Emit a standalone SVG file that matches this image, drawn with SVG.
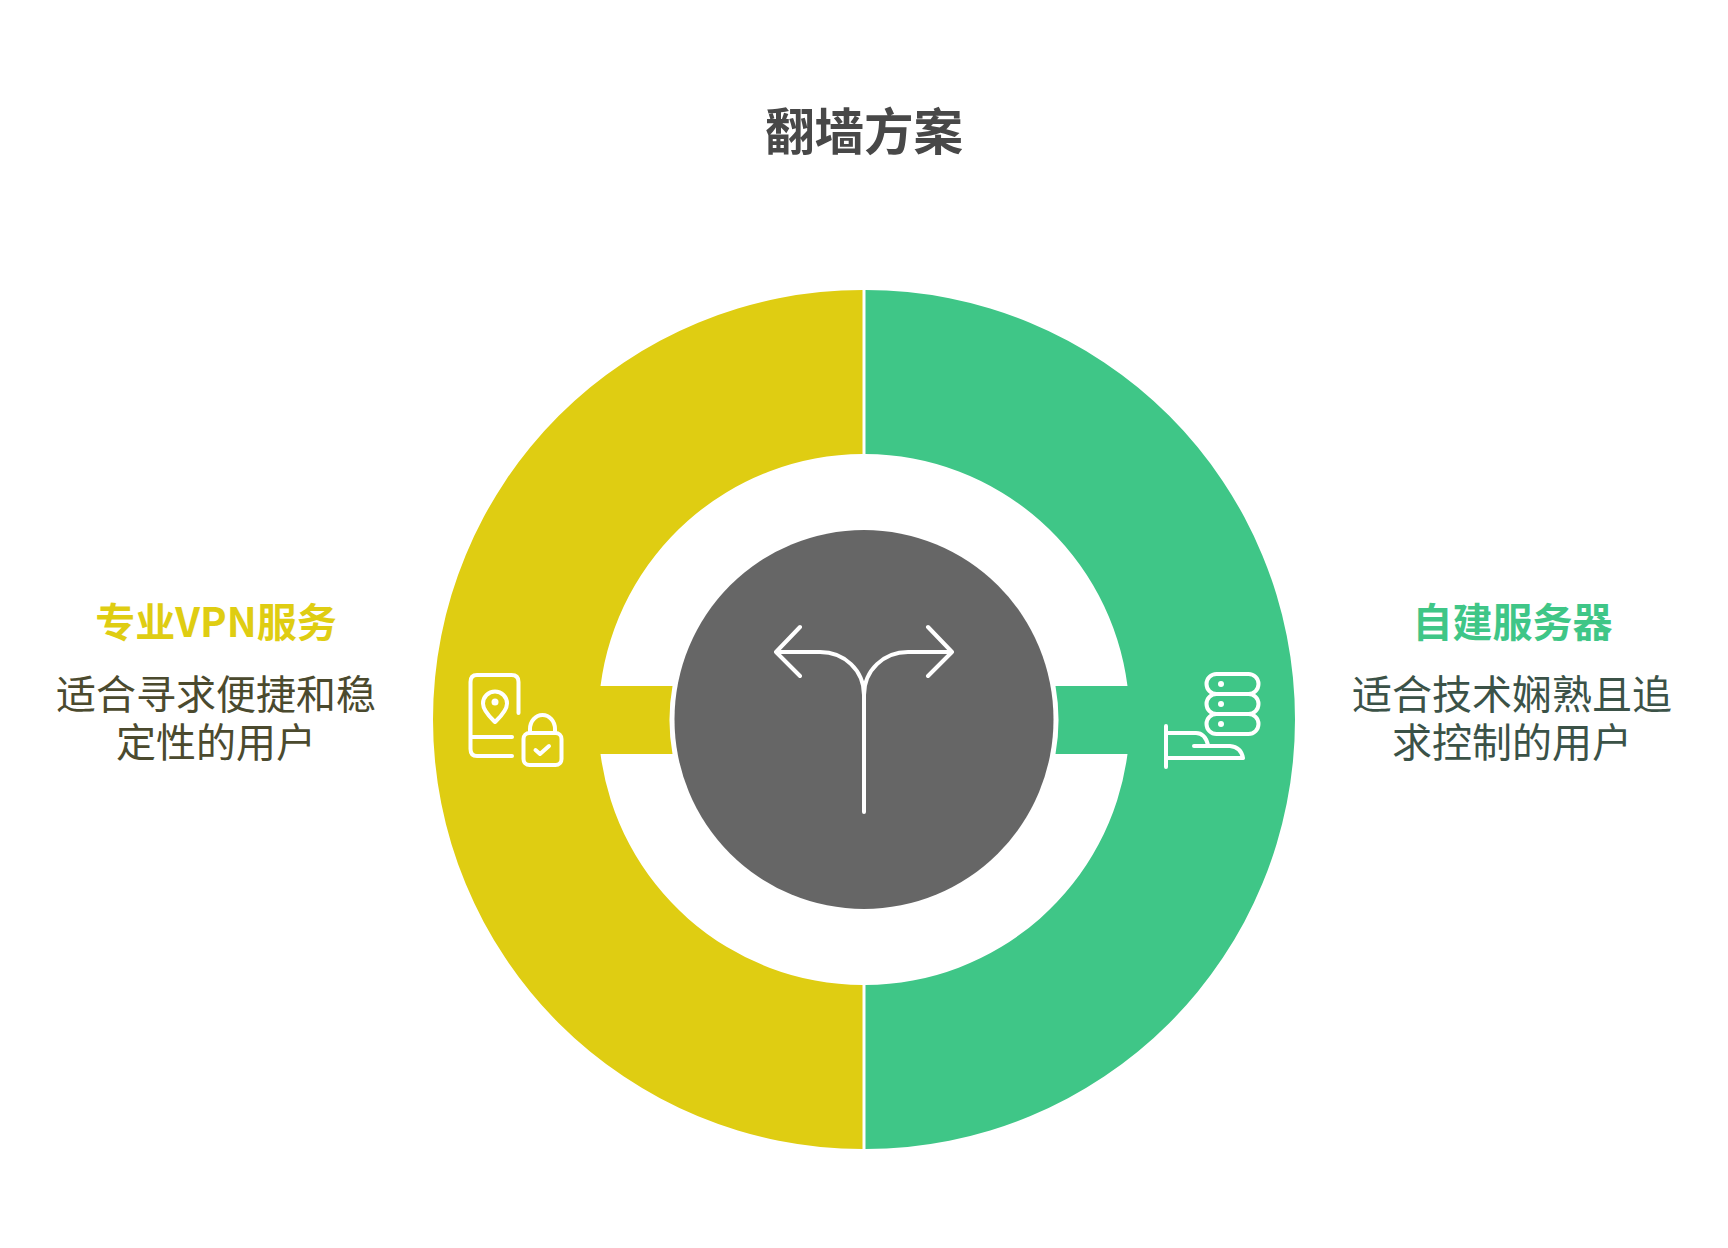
<svg xmlns="http://www.w3.org/2000/svg" width="1728" height="1248" viewBox="0 0 1728 1248">
<style>
text{font-family:"Noto Sans CJK SC","Noto Sans",sans-serif;text-anchor:middle}
.t{font-size:49.500px;font-weight:700;fill:#484848}
.h{font-size:40px;font-weight:700}
.d{font-size:40px;font-weight:400}
.i{fill:none;stroke:#fff;stroke-width:4;stroke-linecap:round;stroke-linejoin:round}
</style>
<rect width="1728" height="1248" fill="#fff"/>
<g id="connectors"></g>
<g id="node-left">
<path d="M862.500 290A429.500 429.500 0 0 0 862.500 1149V985A265.500 265.500 0 0 1 600.500 754H672.500A193 193 0 0 1 672.500 686H600.500A265.500 265.500 0 0 1 862.500 454Z" fill="#dfcd12"/>
<g class="i">
<path d="M518.500 713V682Q518.500 675 511.500 675H477Q470.500 675 470.500 682V749Q470.500 756 477 756H512M470.500 737H512"/>
<path d="M495 691.500A12 12 0 0 1 507 703.500C507 711 499 718 495 722C491 718 483 711 483 703.500A12 12 0 0 1 495 691.500Z"/>
<rect x="523.500" y="733" width="38" height="32" rx="6"/>
<path d="M530 733V729A12.500 14 0 0 1 555 729V733M535.500 750L540 754L549 746"/>
</g>
<circle cx="495" cy="702" r="3.500" fill="#fff"/>
<text class="h" x="216" y="637" fill="#dfcd12">专业VPN服务</text>
<text class="d" fill="#4b4a2e"><tspan x="216" y="709">适合寻求便捷和稳</tspan><tspan x="216" y="757">定性的用户</tspan></text>
</g>
<g id="node-right">
<path d="M865.500 290A429.500 429.500 0 0 1 865.500 1149V985A265.500 265.500 0 0 0 1127.500 754H1055.500A193 193 0 0 0 1055.500 686H1127.500A265.500 265.500 0 0 0 865.500 454Z" fill="#3fc687"/>
<g class="i">
<rect x="1206.500" y="674" width="52" height="20" rx="10"/>
<rect x="1206.500" y="694" width="52" height="20" rx="10"/>
<rect x="1206.500" y="714" width="52" height="20" rx="10"/>
<path d="M1166 726V767M1166 733H1196Q1205 733 1208 745M1194 746H1230Q1241 747 1243 758H1166"/>
</g>
<circle cx="1221" cy="684" r="3" fill="#fff"/><circle cx="1221" cy="704" r="3" fill="#fff"/><circle cx="1221" cy="724" r="3" fill="#fff"/>
<text class="h" x="1512.500" y="637" fill="#3fc687">自建服务器</text>
<text class="d" fill="#3b5247"><tspan x="1512" y="709">适合技术娴熟且追</tspan><tspan x="1512" y="757">求控制的用户</tspan></text>
</g>
<g id="node-center">
<circle cx="864" cy="719.500" r="189.500" fill="#666"/>
<path class="i" d="M864 812V695C864 670 844 652 820 652H776M800 627L776 652L800 676M864 695C864 670 884 652 908 652H952M928 627L952 652L928 676"/>
</g>
<g id="title"><text class="t" x="864" y="150">翻墙方案</text></g>
</svg>
